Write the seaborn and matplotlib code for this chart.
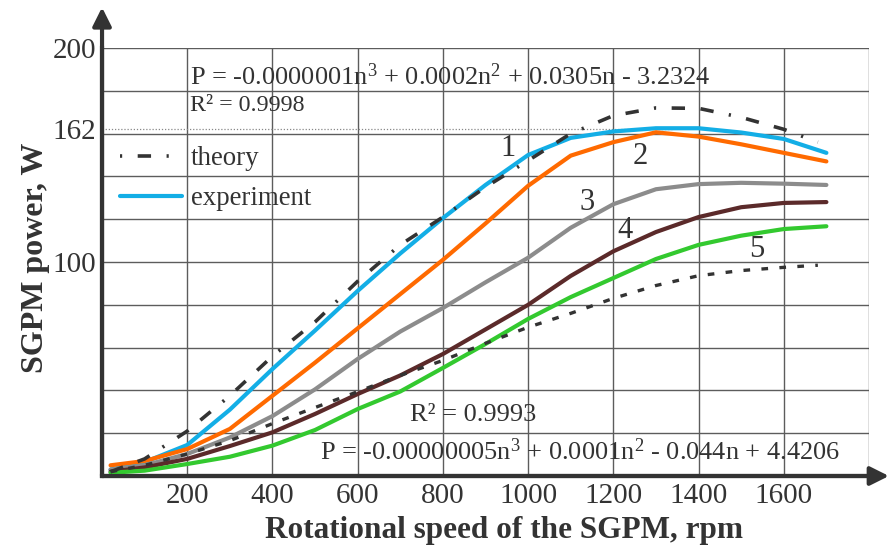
import numpy as np
import pandas as pd
import seaborn as sns
import matplotlib.pyplot as plt
from matplotlib.lines import Line2D

# == data (rpm / W) == #

RPM = [20, 100, 200, 300, 400, 500, 600, 700, 800, 900,
       1000, 1100, 1200, 1300, 1400, 1500, 1600, 1700]
RPM_TH = [20, 100, 200, 300, 400, 500, 600, 700, 800, 900,
          1000, 1100, 1200, 1300, 1400, 1500, 1600, 1680]

P1 = [3, 6.5, 14.5, 31, 50, 68, 86.5, 104, 120.5, 136,
      150, 158, 161, 162.5, 162.5, 160.5, 157.5, 151]
P2 = [5, 7, 12.6, 22, 37.5, 53, 69, 85, 101, 118,
      135.6, 149.7, 156, 160.6, 158.6, 155, 151, 147]
P3 = [3, 5, 10.3, 18, 28, 40.5, 54.7, 67.5, 78.5, 90.5,
      102, 116, 127, 134, 136.4, 137, 136.6, 136]
P4 = [2, 4, 8, 14, 20.4, 29, 38.3, 47, 57, 68.5,
      80, 93.5, 105, 114, 121, 125.6, 127.6, 128]
P5 = [1.5, 2.5, 5.6, 9, 14.2, 21.5, 31.3, 39.5, 50.5, 61.7,
      73.4, 83.6, 92.5, 101.4, 108, 112.3, 115.4, 116.7]

THEORY_1 = [2, 8, 21, 37.5, 56, 72, 91, 108, 121, 135,
            147.4, 160, 168.4, 172, 171.8, 167.6, 162, 156]
THEORY_5 = [2, 5, 10.3, 16.5, 24.5, 32, 39.4, 47, 54, 62,
            69.5, 76, 83, 89, 93.6, 96, 97.5, 98.5]

P_MAX = 162
P_MAX_RPM = 1340

CURVE_NAMES = ['1', '2', '3', '4', '5']
NAME_POS = [(953, 153), (1263, 149.5), (1138, 127.6), (1227, 114.5), (1537, 106)]

EQ_TOP = r'P = -0.0000001n$^{3}$ + 0.0002n$^{2}$ + 0.0305n - 3.2324'
R2_TOP = 'R² = 0.9998'
EQ_BOT = r'P = -0.00000005n$^{3}$ + 0.0001n$^{2}$ - 0.044n + 4.4206'
R2_BOT = 'R² = 0.9993'

COLORS = ['#13aee6', '#ff6a00', '#8c8c8c', '#5b2a2a', '#33c92f']
INK = '#333333'

sns.set_theme(style='white')
plt.rcParams['font.family'] = ['Liberation Serif', 'DejaVu Serif']
plt.rcParams['mathtext.fontset'] = 'custom'
plt.rcParams['mathtext.rm'] = 'Liberation Serif'
plt.rcParams['mathtext.it'] = 'Liberation Serif'
plt.rcParams['mathtext.default'] = 'rm'

fig = plt.figure(figsize=(8.88, 5.46), dpi=100)
ax = fig.add_axes([0.1149, 0.1282, 0.8637, 0.7839])

# -- experiment curves
for vals, col in zip([P1, P2, P3, P4, P5], COLORS):
    df = pd.DataFrame({'n': RPM, 'P': vals})
    sns.lineplot(data=df, x='n', y='P', color=col, lw=3, ax=ax, zorder=3)

# -- theory curves
dash_dot = (0, (3.7, 4.3, 3.7, 4.3, 0.6, 4.3))
sns.lineplot(x=RPM_TH, y=THEORY_1, color=INK, lw=2.6, ax=ax, zorder=4,
             linestyle=dash_dot)
sns.lineplot(x=RPM_TH, y=THEORY_5, color=INK, lw=2.4, ax=ax, zorder=4,
             linestyle=(0, (2.0, 3.4)))

# -- max power marker
ax.plot([0, P_MAX_RPM], [P_MAX, P_MAX], color='#888888', lw=0.9, ls=(0, (1, 1.5)), zorder=2)

ax.set_xlim(0, 1800)
ax.set_ylim(0, 200)

xt = list(range(0, 1801, 200))
ax.set_xticks(xt, labels=['' if v in (0, 1800) else str(v) for v in xt])
yt = list(range(0, 201, 20))
ax.set_yticks(yt, labels=[str(v) if v in (100, 200) else '' for v in yt])
ax.set_yticks([P_MAX], labels=[str(P_MAX)], minor=True)

ax.grid(True, which='major', color='#5c5c5c', lw=1.0)
ax.grid(False, which='minor')
ax.tick_params(axis='both', which='both', length=0, labelsize=21, colors=INK)
ax.tick_params(axis='x', pad=5)
ax.tick_params(axis='y', which='both', pad=4)

for side in ['top', 'right']:
    ax.spines[side].set_visible(False)
for side in ['left', 'bottom']:
    ax.spines[side].set_color(INK)
    ax.spines[side].set_linewidth(3)

# arrows on the axes
arrow = dict(arrowstyle='-|>', color=INK, lw=3, mutation_scale=28, shrinkA=0, shrinkB=0)
ax.annotate('', xy=(1.026, 0), xytext=(0, 0), xycoords='axes fraction',
            arrowprops=arrow, annotation_clip=False)
ax.annotate('', xy=(0, 1.095), xytext=(0, 0), xycoords='axes fraction',
            arrowprops=arrow, annotation_clip=False)

ax.set_xlabel('Rotational speed of the SGPM, rpm', fontsize=22.5, fontweight='bold',
              color=INK, labelpad=5)
ax.set_ylabel('SGPM power, W', fontsize=23, fontweight='bold', color=INK, labelpad=2)
ax.xaxis.label.set_x(0.524)
ax.yaxis.label.set_y(0.51)

# -- equations
ax.text(207, 186.4, EQ_TOP, fontsize=19, color=INK, va='center', ha='left')
ax.text(207, 173, R2_TOP, fontsize=17.3, color=INK, va='center', ha='left')
ax.text(723, 28.5, R2_BOT, fontsize=19, color=INK, va='center', ha='left')
ax.text(512, 11.2, EQ_BOT, fontsize=19, color=INK, va='center', ha='left')

for name, (xn, yp) in zip(CURVE_NAMES, NAME_POS):
    ax.text(xn, yp, name, fontsize=22, color=INK, ha='center', va='center')

# -- legend
handles = [Line2D([], [], color=INK, lw=2.6, linestyle=(0, (0.6, 4.3, 3.7, 4.3, 0.6, 4.3))),
           Line2D([], [], color=COLORS[0], lw=3)]
leg = ax.legend(handles, ['theory', 'experiment'], loc='upper left',
                bbox_to_anchor=(0.023, 0.77), frameon=False, fontsize=19.4,
                handlelength=2.3, handletextpad=0.35, labelspacing=0.55,
                borderpad=0, borderaxespad=0)
for t in leg.get_texts():
    t.set_color(INK)

fig.savefig('out.png', dpi=100)
